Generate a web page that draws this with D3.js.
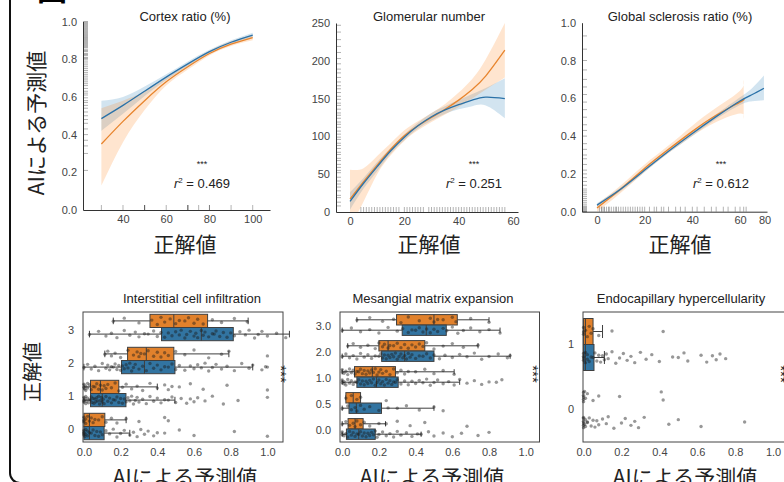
<!DOCTYPE html>
<html>
<head>
<meta charset="utf-8">
<script src="https://cdn.jsdelivr.net/npm/d3@7"></script>
<style>
body { margin: 0; background: #fff; }
svg { display: block; font-family: "Liberation Sans", Arial, sans-serif; }
</style>
</head>
<body>
<script>
// ---------- top row: regression fits ----------
const cortexX = [30, 40, 50, 60, 70, 80, 90, 100];
const cortexBlue = [0.485, 0.555, 0.63, 0.705, 0.775, 0.84, 0.89, 0.928];
const cortexBlueLo = [0.42, 0.51, 0.605, 0.69, 0.762, 0.83, 0.88, 0.915];
const cortexBlueHi = [0.58, 0.60, 0.655, 0.72, 0.788, 0.85, 0.90, 0.94];
const cortexOrange = [0.35, 0.47, 0.58, 0.68, 0.76, 0.83, 0.88, 0.915];
const cortexOrangeLo = [0.13, 0.36, 0.53, 0.66, 0.745, 0.82, 0.87, 0.90];
const cortexOrangeHi = [0.54, 0.58, 0.63, 0.70, 0.775, 0.845, 0.895, 0.93];
const cortexRugX = [30, 40, 50, 50, 50, 60, 70, 70, 70, 75, 80, 80, 90, 100];
const cortexRugY = [0.21, 0.30, 0.34, 0.37, 0.40, 0.43, 0.46, 0.48, 0.50, 0.52, 0.54, 0.555, 0.57, 0.58, 0.595, 0.61, 0.62, 0.63, 0.645, 0.66, 0.67, 0.68, 0.69, 0.70, 0.71, 0.72, 0.73, 0.74, 0.75, 0.76, 0.77, 0.78, 0.79, 0.80, 0.805, 0.81, 0.82, 0.825, 0.83, 0.84, 0.845, 0.85, 0.86, 0.865, 0.87, 0.875, 0.88, 0.885, 0.89, 0.895, 0.90, 0.905, 0.91, 0.915, 0.92, 0.925, 0.93, 0.935, 0.94, 0.945, 0.95, 0.955, 0.96, 0.965, 0.97, 0.975, 0.98, 0.985, 0.99, 0.995, 1.0];

const glomX = [0, 5, 10, 15, 20, 25, 30, 35, 40, 45, 50, 57];
const glomBlue = [14, 38, 60, 81, 99, 114, 126, 135, 142, 148, 152, 150];
const glomBlueLo = [3, 31, 54, 77, 95, 110, 121, 130, 136, 140, 141, 124];
const glomBlueHi = [26, 45, 66, 85, 103, 118, 131, 140, 148, 156, 164, 177];
const glomOrange = [17, 40, 62, 83, 101, 114, 125, 136, 148, 162, 180, 214];
const glomOrangeLo = [-20, 14, 50, 75, 94, 108, 119, 129, 139, 150, 162, 178];
const glomOrangeHi = [56, 58, 74, 91, 108, 120, 131, 143, 158, 176, 202, 250];
const glomRugX = [4, 5, 6, 7, 8, 9, 10, 11, 12, 13, 14, 15, 16, 17, 18, 20, 21, 22, 23, 24, 25, 26, 27, 29, 30, 31, 32, 33, 34, 35, 36, 37, 38, 39, 40, 41, 42, 43, 44, 45, 46, 47, 48, 49, 50, 51, 52, 53, 54, 55, 56, 57];
const glomRugY = [8, 13, 19, 22, 28, 33, 37, 41, 46, 52, 55, 59, 63, 68, 71, 76, 79, 84, 88, 91, 96, 99, 103, 107, 112, 116, 119, 124, 128, 131, 136, 141, 144, 149, 153, 158, 163, 167, 172, 178, 184, 189, 196, 203, 211, 219, 228, 238, 247];

const globalBlueX = [0, 10, 20, 30, 40, 50, 60, 70, 79.5];
const globalBlue = [0.035, 0.12, 0.22, 0.32, 0.414, 0.503, 0.586, 0.62, 0.653];
const globalBlueLo = [0.025, 0.11, 0.21, 0.31, 0.40, 0.49, 0.565, 0.585, 0.59];
const globalBlueHi = [0.045, 0.13, 0.23, 0.33, 0.425, 0.515, 0.605, 0.655, 0.72];
const globalOrangeX = [0, 10, 20, 30, 40, 50, 60, 63];
const globalOrange = [0.02, 0.12, 0.23, 0.33, 0.425, 0.51, 0.58, 0.595];
const globalOrangeLo = [0.0, 0.10, 0.21, 0.31, 0.40, 0.475, 0.52, 0.49];
const globalOrangeHi = [0.04, 0.14, 0.25, 0.35, 0.455, 0.55, 0.64, 0.70];
const globalRugX = [1, 2, 2, 3, 3, 4, 5, 5, 6, 7, 8, 8, 9, 10, 11, 12, 13, 14, 15, 16, 17, 18, 19, 20, 22, 24, 25, 27, 28, 30, 33, 35, 37, 40, 42, 45, 48, 50, 53, 55, 58, 60, 63, 65];
const globalRugY = [0, 0, 0.005, 0.01, 0.015, 0.02, 0.025, 0.03, 0.04, 0.05, 0.06, 0.07, 0.08, 0.09, 0.1, 0.11, 0.12, 0.14, 0.16, 0.18, 0.2, 0.22, 0.25, 0.28, 0.3, 0.33, 0.36, 0.4, 0.43, 0.46, 0.5, 0.54, 0.58, 0.62, 0.66, 0.7, 0.75, 0.8, 0.86, 0.93];

// ---------- bottom row: box plots [whisker lo, q1, median, q3, whisker hi] ----------
const icCats = ["3", "2", "1", "0"];
const icOrangeStats = [[0.16, 0.36, 0.49, 0.674, 0.895], [0.114, 0.238, 0.34, 0.49, 0.79], [0.0, 0.036, 0.09, 0.19, 0.40], [0.0, 0.0, 0.03, 0.114, 0.23]];
const icBlueStats = [[0.03, 0.423, 0.64, 0.814, 1.12], [0.0, 0.205, 0.33, 0.496, 0.92], [0.0, 0.036, 0.10, 0.229, 0.496], [0.0, 0.0, 0.03, 0.11, 0.25]];
const icOrangePts = [
  [0.16, 0.22, 0.30, 0.37, 0.40, 0.42, 0.44, 0.47, 0.50, 0.52, 0.55, 0.57, 0.60, 0.62, 0.65, 0.70, 0.75, 0.82, 0.89],
  [0.114, 0.13, 0.15, 0.17, 0.2, 0.24, 0.27, 0.29, 0.3, 0.31, 0.33, 0.35, 0.38, 0.4, 0.42, 0.44, 0.46, 0.5, 0.55, 0.6, 0.68, 0.75, 0.79, 1.0],
  [0, 0, 0.005, 0.01, 0.01, 0.02, 0.02, 0.03, 0.04, 0.05, 0.06, 0.07, 0.08, 0.09, 0.1, 0.11, 0.12, 0.13, 0.15, 0.17, 0.19, 0.21, 0.23, 0.26, 0.29, 0.32, 0.36, 0.40, 0.44, 0.46, 0.48, 0.52, 0.58, 0.65, 0.78, 1.0],
  [0, 0, 0, 0.01, 0.01, 0.02, 0.03, 0.04, 0.05, 0.06, 0.08, 0.1, 0.12, 0.15, 0.18, 0.23, 0.3, 0.44, 0.46]
];
const icBluePts = [
  [0.03, 0.08, 0.12, 0.15, 0.18, 0.22, 0.25, 0.28, 0.3, 0.33, 0.35, 0.38, 0.4, 0.42, 0.44, 0.46, 0.48, 0.5, 0.52, 0.53, 0.55, 0.56, 0.58, 0.6, 0.61, 0.62, 0.64, 0.65, 0.66, 0.68, 0.7, 0.71, 0.72, 0.74, 0.76, 0.78, 0.8, 0.82, 0.85, 0.88, 0.9, 0.93, 0.95, 0.97, 1.0, 1.05, 1.1],
  [0.0, 0.02, 0.04, 0.06, 0.08, 0.1, 0.12, 0.13, 0.14, 0.15, 0.16, 0.17, 0.18, 0.19, 0.2, 0.21, 0.22, 0.23, 0.24, 0.25, 0.26, 0.27, 0.28, 0.3, 0.32, 0.34, 0.36, 0.38, 0.4, 0.42, 0.44, 0.46, 0.48, 0.5, 0.52, 0.55, 0.58, 0.6, 0.62, 0.64, 0.66, 0.68, 0.7, 0.72, 0.75, 0.78, 0.82, 0.86, 0.9, 0.92, 0.97, 0.99, 1.0],
  [0, 0, 0, 0.005, 0.01, 0.01, 0.015, 0.02, 0.025, 0.03, 0.035, 0.04, 0.045, 0.05, 0.055, 0.06, 0.065, 0.07, 0.075, 0.08, 0.085, 0.09, 0.095, 0.1, 0.105, 0.11, 0.12, 0.13, 0.14, 0.15, 0.16, 0.17, 0.18, 0.19, 0.2, 0.21, 0.22, 0.23, 0.24, 0.25, 0.26, 0.27, 0.28, 0.29, 0.3, 0.32, 0.34, 0.36, 0.38, 0.4, 0.42, 0.44, 0.46, 0.48, 0.5, 0.53, 0.56, 0.58, 0.6, 0.62, 0.66, 0.7, 0.76, 0.84, 1.0],
  [0, 0, 0, 0, 0.005, 0.01, 0.01, 0.02, 0.02, 0.03, 0.04, 0.05, 0.06, 0.07, 0.08, 0.09, 0.1, 0.12, 0.14, 0.16, 0.18, 0.2, 0.22, 0.25, 0.27, 0.29, 0.31, 0.33, 0.35, 0.38, 0.4, 0.44, 0.52, 0.6, 0.82, 1.0]
];

const meCats = ["3.0", "2.0", "1.0", "0.5", "0.0"];
const meOrangeStats = [[0.08, 0.296, 0.50, 0.627, 0.80], [0.03, 0.20, 0.25, 0.45, 0.74], [0.0, 0.067, 0.164, 0.29, 0.61], [0.02, 0.02, 0.06, 0.10, 0.10], [0.0, 0.032, 0.07, 0.114, 0.236]];
const meBlueStats = [[0.0, 0.327, 0.458, 0.567, 0.86], [0.0, 0.215, 0.34, 0.50, 0.915], [0.0, 0.08, 0.187, 0.305, 0.64], [0.0, 0.037, 0.077, 0.214, 0.5], [0.0, 0.023, 0.09, 0.18, 0.43]];
const meOrangePts = [
  [0.08, 0.15, 0.22, 0.28, 0.32, 0.36, 0.42, 0.48, 0.5, 0.52, 0.55, 0.6, 0.62, 0.7, 0.8],
  [0.03, 0.06, 0.1, 0.14, 0.18, 0.2, 0.22, 0.23, 0.25, 0.26, 0.28, 0.3, 0.32, 0.34, 0.36, 0.38, 0.4, 0.42, 0.44, 0.46, 0.5, 0.55, 0.6, 0.66, 0.74],
  [0.0, 0.0, 0.01, 0.02, 0.03, 0.04, 0.05, 0.06, 0.07, 0.08, 0.09, 0.1, 0.11, 0.12, 0.13, 0.14, 0.15, 0.16, 0.17, 0.18, 0.19, 0.2, 0.21, 0.22, 0.24, 0.26, 0.28, 0.3, 0.32, 0.34, 0.36, 0.4, 0.45, 0.5, 0.55, 0.61],
  [0.02, 0.05, 0.08, 0.1, 0.24],
  [0.0, 0.02, 0.04, 0.06, 0.07, 0.08, 0.1, 0.12, 0.15, 0.2, 0.24, 0.3, 0.37, 0.45, 0.68]
];
const meBluePts = [
  [0.0, 0.05, 0.1, 0.15, 0.2, 0.25, 0.3, 0.33, 0.36, 0.38, 0.4, 0.42, 0.44, 0.46, 0.48, 0.5, 0.52, 0.55, 0.57, 0.6, 0.63, 0.66, 0.7, 0.75, 0.8, 0.86],
  [0.0, 0.02, 0.04, 0.06, 0.08, 0.1, 0.12, 0.14, 0.16, 0.18, 0.2, 0.21, 0.22, 0.23, 0.24, 0.25, 0.26, 0.27, 0.28, 0.29, 0.3, 0.31, 0.32, 0.33, 0.34, 0.35, 0.36, 0.37, 0.38, 0.4, 0.42, 0.44, 0.46, 0.48, 0.5, 0.53, 0.56, 0.6, 0.64, 0.68, 0.72, 0.76, 0.8, 0.85, 0.9, 0.915],
  [0, 0, 0.01, 0.01, 0.02, 0.03, 0.04, 0.05, 0.06, 0.07, 0.08, 0.09, 0.1, 0.11, 0.12, 0.13, 0.14, 0.15, 0.16, 0.17, 0.18, 0.19, 0.2, 0.21, 0.22, 0.23, 0.24, 0.25, 0.26, 0.27, 0.28, 0.29, 0.3, 0.32, 0.34, 0.36, 0.38, 0.4, 0.42, 0.44, 0.46, 0.48, 0.5, 0.52, 0.55, 0.58, 0.61, 0.64, 0.68, 0.72, 0.76, 0.8, 0.84, 0.87],
  [0.0, 0.03, 0.05, 0.07, 0.08, 0.1, 0.12, 0.15, 0.2, 0.25, 0.3, 0.35, 0.42, 0.5, 0.55],
  [0, 0, 0.01, 0.02, 0.03, 0.04, 0.05, 0.06, 0.07, 0.08, 0.09, 0.1, 0.11, 0.12, 0.13, 0.14, 0.15, 0.16, 0.17, 0.18, 0.19, 0.2, 0.22, 0.24, 0.26, 0.28, 0.3, 0.32, 0.35, 0.38, 0.41, 0.43, 0.47, 0.5, 0.55, 0.6, 0.65, 0.74, 0.8]
];

const ecCats = ["1", "0"];
const ecOrangeStats = [[0.0, 0.0, 0.01, 0.05, 0.10], [0, 0, 0, 0, 0]];
const ecBlueStats = [[0.0, 0.0, 0.01, 0.055, 0.11], [0, 0, 0, 0, 0]];
const ecOrangePts = [
  [0, 0, 0, 0.01, 0.02, 0.03, 0.04, 0.05, 0.08, 0.15, 0.42],
  [0, 0, 0, 0, 0, 0.005, 0.01, 0.02, 0.05, 0.08, 0.19, 0.41, 0.42]
];
const ecBluePts = [
  [0, 0, 0, 0, 0.01, 0.01, 0.02, 0.02, 0.03, 0.04, 0.05, 0.06, 0.07, 0.08, 0.09, 0.1, 0.11, 0.12, 0.13, 0.15, 0.17, 0.19, 0.21, 0.23, 0.25, 0.27, 0.3, 0.33, 0.36, 0.4, 0.47, 0.5, 0.53, 0.55, 0.62, 0.65, 0.68, 0.7, 0.72, 0.75],
  [0, 0, 0, 0, 0, 0, 0.005, 0.01, 0.01, 0.02, 0.02, 0.03, 0.04, 0.05, 0.06, 0.07, 0.08, 0.1, 0.12, 0.13, 0.16, 0.2, 0.22, 0.25, 0.27, 0.29, 0.32, 0.45, 0.5, 0.62, 0.85]
];

const ORANGE = "#e1812c", BLUE = "#3274a1";
const LINE_ORANGE = "#e8852e", LINE_BLUE = "#2b72a8";
const EDGE = "#3f3f3f";
const JP = "'Noto Sans CJK JP', sans-serif";
const jit = [0.1, -0.7, 0.5, -0.2, 0.9, -0.9, 0.3, -0.5, 0.7, -0.1, 0.0, -0.8, 0.6, -0.4, 0.8, -0.3, 0.4, -0.6, 0.2, -1.0, 1.0];

const svg = d3.select("body").append("svg").attr("width", 784).attr("height", 482);

// outer frame and figure tag
svg.append("path").attr("d", "M10,-5V473A10,10 0 0 0 20,483H800")
  .attr("fill", "none").attr("stroke", "#111").attr("stroke-width", 2);
svg.append("text").attr("x", 37).attr("y", 0).style("font-family", JP)
  .style("font-size", "30px").style("font-weight", "bold").text("図");

function styleAxis(g) {
  g.select(".domain").attr("stroke", "#333");
  g.selectAll("text").attr("fill", "#444").style("font-size", "11px")
    .style("font-family", "'Liberation Sans', Arial, sans-serif");
}

function regPanel(p) {
  const g = svg.append("g");
  const xr = p.x.range(), yr = p.y.range();
  const x0 = xr[0], x1 = xr[xr.length - 1], yb = yr[0], yt = yr[1];
  g.append("clipPath").attr("id", "clip" + p.key).append("rect")
    .attr("x", x0 - 1).attr("y", yt - 1).attr("width", x1 - x0 + 2).attr("height", yb - yt + 2);
  const plot = g.append("g").attr("clip-path", "url(#clip" + p.key + ")");

  plot.selectAll("line.rx").data(p.rugX).join("line").attr("class", "rx")
    .attr("x1", d => p.x(d)).attr("x2", d => p.x(d)).attr("y1", yb).attr("y2", yb - 5)
    .attr("stroke", "#000").attr("stroke-opacity", 0.3);
  plot.selectAll("line.ry").data(p.rugY).join("line").attr("class", "ry")
    .attr("y1", d => p.y(d)).attr("y2", d => p.y(d)).attr("x1", x0).attr("x2", x0 + 5)
    .attr("stroke", "#000").attr("stroke-opacity", 0.3);

  const fits = [
    { xs: p.blueX, f: p.blue, band: "#1f77b4", line: LINE_BLUE },
    { xs: p.orangeX, f: p.orange, band: "#ff7f0e", line: LINE_ORANGE }
  ];
  fits.forEach(s => {
    const area = d3.area().curve(d3.curveNatural)
      .x((d, i) => p.x(s.xs[i])).y0((d, i) => p.y(s.f[1][i])).y1((d, i) => p.y(s.f[2][i]));
    plot.append("path").datum(s.xs).attr("d", area).attr("fill", s.band).attr("fill-opacity", 0.2);
  });
  fits.slice().reverse().forEach(s => {
    const line = d3.line().curve(d3.curveNatural)
      .x((d, i) => p.x(s.xs[i])).y((d, i) => p.y(s.f[0][i]));
    plot.append("path").datum(s.xs).attr("d", line).attr("fill", "none")
      .attr("stroke", s.line).attr("stroke-width", 1.3);
  });

  g.append("g").attr("transform", `translate(0,${yb})`)
    .call(d3.axisBottom(p.x).tickValues(p.xTicks).tickSize(0).tickPadding(5).tickFormat(d3.format("d")))
    .call(styleAxis);
  g.append("g").attr("transform", `translate(${x0},0)`)
    .call(d3.axisLeft(p.y).tickValues(p.yTicks).tickSize(0).tickPadding(6).tickFormat(p.yFmt))
    .call(styleAxis);

  g.append("text").attr("x", p.cx).attr("y", 21).attr("text-anchor", "middle")
    .style("font-size", "13px").attr("fill", "#222").text(p.title);
  g.append("text").attr("x", p.statX).attr("y", 167).attr("text-anchor", "middle")
    .style("font-size", "9px").attr("fill", "#222").text("***");
  const r2 = g.append("text").attr("x", p.statX).attr("y", 188).attr("text-anchor", "middle")
    .style("font-size", "13px").attr("fill", "#222");
  r2.append("tspan").style("font-style", "italic").text("r");
  r2.append("tspan").attr("dy", -5).style("font-size", "8px").text("2");
  r2.append("tspan").attr("dy", 5).text(" = " + p.r2);
  g.append("text").attr("x", p.cx).attr("y", 252).attr("text-anchor", "middle")
    .style("font-family", JP).style("font-size", "21px").attr("fill", "#222").text("正解値");
}

regPanel({
  key: "a", title: "Cortex ratio (%)", cx: 185, statX: 202, r2: "0.469",
  x: d3.scaleLinear().domain([21.5, 108]).range([83, 270]),
  y: d3.scaleLinear().domain([0, 1]).range([210, 21.5]),
  xTicks: [40, 60, 80, 100], yTicks: [0, 0.2, 0.4, 0.6, 0.8, 1.0], yFmt: d3.format(".1f"),
  rugX: cortexRugX, rugY: cortexRugY,
  blueX: cortexX, blue: [cortexBlue, cortexBlueLo, cortexBlueHi],
  orangeX: cortexX, orange: [cortexOrange, cortexOrangeLo, cortexOrangeHi]
});
regPanel({
  key: "b", title: "Glomerular number", cx: 429, statX: 474, r2: "0.251",
  x: d3.scaleLinear().domain([-5.16, 61.84]).range([336, 518]),
  y: d3.scaleLinear().domain([0, 250]).range([212, 23]),
  xTicks: [0, 20, 40, 60], yTicks: [0, 50, 100, 150, 200, 250], yFmt: d3.format("d"),
  rugX: glomRugX, rugY: glomRugY,
  blueX: glomX, blue: [glomBlue, glomBlueLo, glomBlueHi],
  orangeX: glomX, orange: [glomOrange, glomOrangeLo, glomOrangeHi]
});
regPanel({
  key: "c", title: "Global sclerosis ratio (%)", cx: 680, statX: 721, r2: "0.612",
  x: d3.scaleLinear().domain([-6.3, 60, 82]).range([582, 740, 767]),
  y: d3.scaleLinear().domain([0, 1]).range([211.7, 22.7]),
  xTicks: [0, 20, 40, 60, 80], yTicks: [0, 0.2, 0.4, 0.6, 0.8, 1.0], yFmt: d3.format(".1f"),
  rugX: globalRugX, rugY: globalRugY,
  blueX: globalBlueX, blue: [globalBlue, globalBlueLo, globalBlueHi],
  orangeX: globalOrangeX, orange: [globalOrange, globalOrangeLo, globalOrangeHi]
});

svg.append("text").attr("transform", "translate(44,123) rotate(-90)").attr("text-anchor", "middle")
  .style("font-family", JP).style("font-size", "21px").attr("fill", "#222").text("AIによる予測値");

// ---------- box plots ----------
function boxPanel(p) {
  const g = svg.append("g");
  const x = d3.scaleLinear().domain(p.xDomain).range(p.xRange);
  const y = d3.scaleBand().domain(p.cats).range(p.yRange);
  const hw = y.bandwidth() * 0.4;

  g.append("rect").attr("x", p.xRange[0]).attr("y", 312)
    .attr("width", p.xRange[1] - p.xRange[0]).attr("height", 130)
    .attr("fill", "none").attr("stroke", "#444");

  const hues = [
    { stats: p.orangeStats, pts: p.orangePts, color: ORANGE, top: c => c - hw },
    { stats: p.blueStats, pts: p.bluePts, color: BLUE, top: c => c }
  ];
  hues.forEach(h => {
    p.cats.forEach((cat, i) => {
      const s = h.stats[i];
      const t = h.top(y(cat) + y.bandwidth() / 2), m = t + hw / 2;
      if (s[4] === 0) return;
      const bg = g.append("g").attr("stroke", EDGE).attr("stroke-width", 1);
      bg.append("line").attr("x1", x(s[0])).attr("x2", x(s[1])).attr("y1", m).attr("y2", m);
      bg.append("line").attr("x1", x(s[3])).attr("x2", x(s[4])).attr("y1", m).attr("y2", m);
      [s[0], s[4]].forEach(v => bg.append("line").attr("x1", x(v)).attr("x2", x(v))
        .attr("y1", m - hw / 4).attr("y2", m + hw / 4));
      bg.append("rect").attr("x", x(s[1])).attr("y", t).attr("width", x(s[3]) - x(s[1]))
        .attr("height", hw).attr("fill", h.color);
      bg.append("line").attr("x1", x(s[2])).attr("x2", x(s[2])).attr("y1", t).attr("y2", t + hw);
    });
  });
  hues.forEach(h => {
    p.cats.forEach((cat, i) => {
      const m = h.top(y(cat) + y.bandwidth() / 2) + hw / 2;
      g.append("g").selectAll("circle").data(h.pts[i]).join("circle")
        .attr("cx", d => x(d)).attr("cy", (d, j) => m + jit[j % jit.length] * hw * p.jitter)
        .attr("r", 1.7).attr("fill", "#1a1a1a").attr("fill-opacity", 0.45);
    });
  });

  g.append("g").attr("transform", "translate(0,442)")
    .call(d3.axisBottom(x).tickValues([0, 0.2, 0.4, 0.6, 0.8, 1.0]).tickSize(0).tickPadding(6).tickFormat(d3.format(".1f")))
    .call(styleAxis).select(".domain").remove();
  g.append("g").attr("transform", `translate(${p.xRange[0]},${p.labelShift})`)
    .call(d3.axisLeft(y).tickSize(0).tickPadding(9))
    .call(styleAxis).select(".domain").remove();

  g.append("text").attr("x", p.cx).attr("y", 303).attr("text-anchor", "middle")
    .style("font-size", "13px").attr("fill", "#222").text(p.title);
  g.append("text").attr("transform", `translate(${p.starX},374) rotate(90)`).attr("text-anchor", "middle")
    .style("font-size", "15px").attr("fill", "#222").text("***");
  g.append("text").attr("x", p.labelX).attr("y", 485).attr("text-anchor", "middle")
    .style("font-family", JP).style("font-size", "21px").attr("fill", "#222").text("AIによる予測値");
}

boxPanel({
  title: "Interstitial cell infiltration", cx: 192, starX: 276, labelX: 185, labelShift: 3,
  xDomain: [-0.005, 1.085], xRange: [83, 283], cats: icCats, yRange: [311, 443], jitter: 0.3,
  orangeStats: icOrangeStats, blueStats: icBlueStats, orangePts: icOrangePts, bluePts: icBluePts
});
boxPanel({
  title: "Mesangial matrix expansion", cx: 433, starX: 528, labelX: 432, labelShift: 1,
  xDomain: [-0.012, 1.075], xRange: [340, 539.5], cats: meCats, yRange: [312, 442], jitter: 0.3,
  orangeStats: meOrangeStats, blueStats: meBlueStats, orangePts: meOrangePts, bluePts: meBluePts
});
boxPanel({
  title: "Endocapillary hypercellularity", cx: 681, starX: 776, labelX: 685, labelShift: 0,
  xDomain: [-0.003, 1.1], xRange: [583, 792], cats: ecCats, yRange: [312, 442], jitter: 0.22,
  orangeStats: ecOrangeStats, blueStats: ecBlueStats, orangePts: ecOrangePts, bluePts: ecBluePts
});

svg.append("text").attr("transform", "translate(40,372) rotate(-90)").attr("text-anchor", "middle")
  .style("font-family", JP).style("font-size", "20px").attr("fill", "#222").text("正解値");
</script>
</body>
</html>
